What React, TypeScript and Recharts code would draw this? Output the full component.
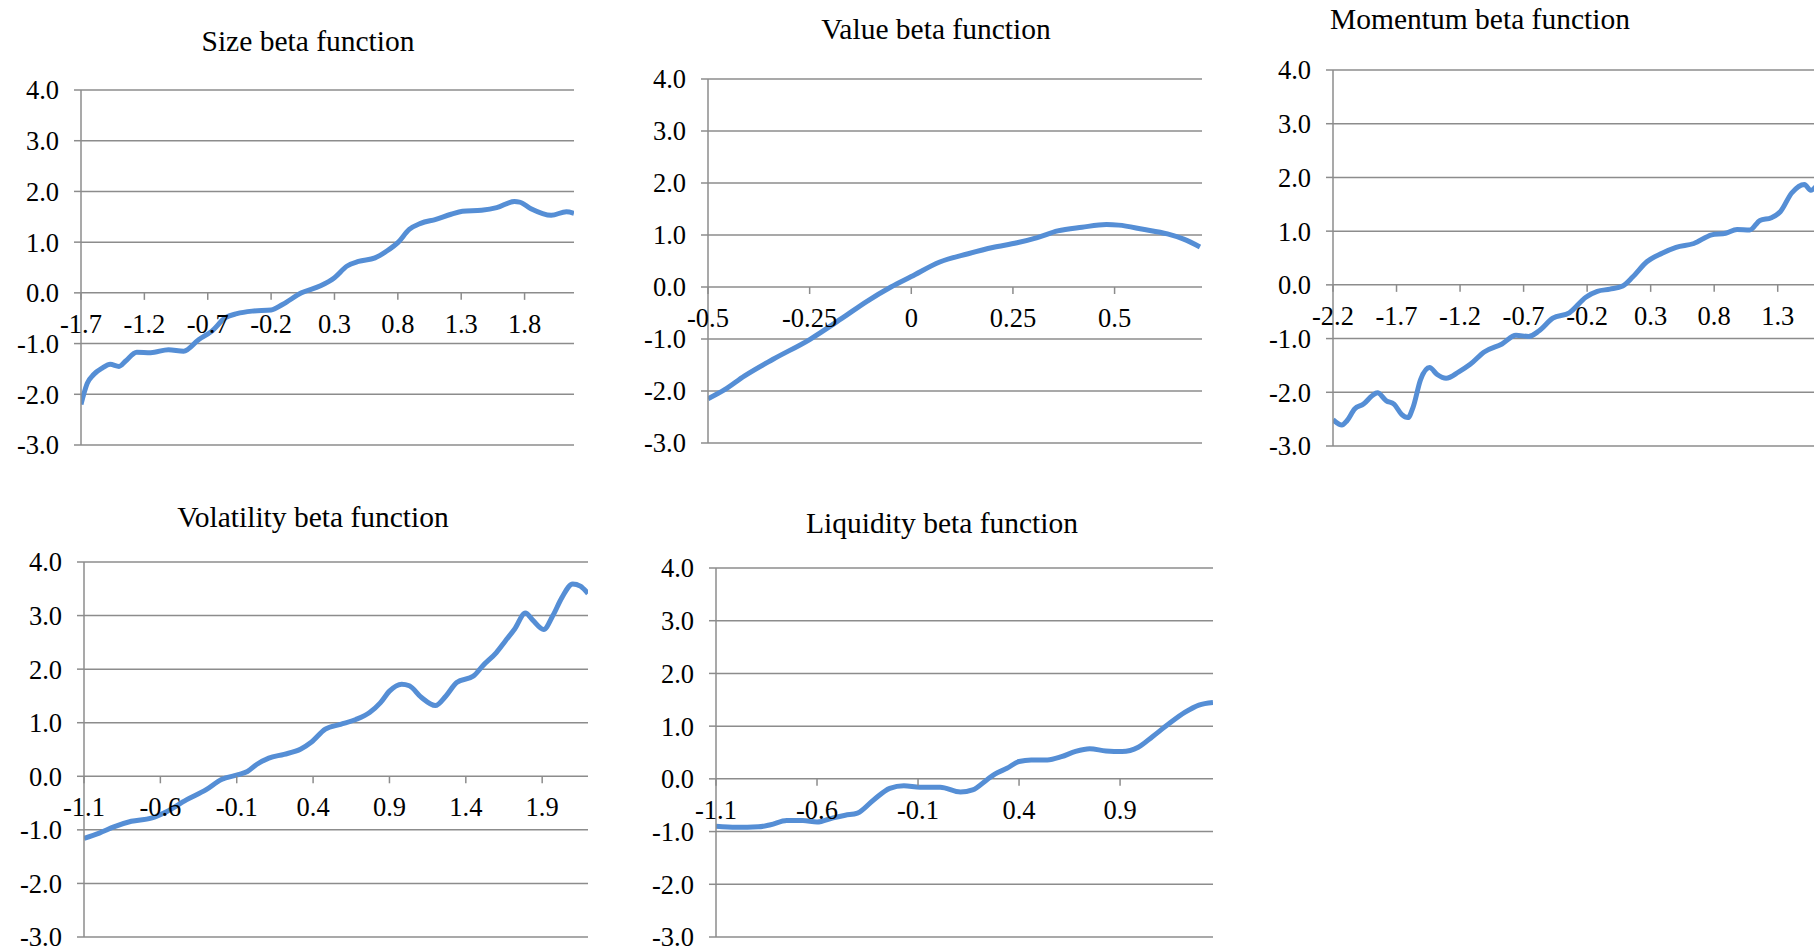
import React from 'react';
import { LineChart, Line, XAxis, YAxis, CartesianGrid, ReferenceDot } from 'recharts';

const FONT = "'Liberation Serif', 'Times New Roman', serif";
const GRID = '#8c8c8c';
const LINE = '#558ed5';
const yTicks = [-3, -2, -1, 0, 1, 2, 3, 4];

// Size beta function
const sizeX = [-1.7, -1.65, -1.6, -1.53, -1.47, -1.4, -1.35, -1.26, -1.15, -1.01, -0.89, -0.77, -0.67, -0.56, -0.47, -0.35, -0.2, -0.11, 0.04, 0.19, 0.3, 0.4, 0.49, 0.62, 0.71, 0.8, 0.89, 0.98, 1.1, 1.22, 1.31, 1.46, 1.58, 1.72, 1.76, 1.85, 2.01, 2.13, 2.19];
const sizeY = [-2.2, -1.78, -1.61, -1.48, -1.41, -1.45, -1.35, -1.17, -1.18, -1.12, -1.15, -0.92, -0.76, -0.49, -0.41, -0.36, -0.34, -0.23, 0.0, 0.14, 0.3, 0.53, 0.62, 0.69, 0.82, 0.99, 1.25, 1.37, 1.45, 1.55, 1.61, 1.63, 1.68, 1.8, 1.79, 1.66, 1.53, 1.6, 1.57];
const sizeTicks = [-1.7, -1.2, -0.7, -0.2, 0.3, 0.8, 1.3, 1.8];
const sizeLabels = ['-1.7', '-1.2', '-0.7', '-0.2', '0.3', '0.8', '1.3', '1.8'];

// Value beta function
const valueX = [-0.5, -0.46, -0.41, -0.34, -0.25, -0.17, -0.11, -0.05, 0.0, 0.07, 0.14, 0.2, 0.26, 0.31, 0.36, 0.42, 0.48, 0.51, 0.57, 0.63, 0.67, 0.71];
const valueY = [-2.15, -1.98, -1.71, -1.39, -1.01, -0.6, -0.28, 0.0, 0.2, 0.48, 0.64, 0.76, 0.85, 0.95, 1.08, 1.15, 1.2, 1.19, 1.11, 1.02, 0.92, 0.77];
const valueTicks = [-0.5, -0.25, 0, 0.25, 0.5];
const valueLabels = ['-0.5', '-0.25', '0', '0.25', '0.5'];

// Momentum beta function
const momX = [-2.2, -2.13, -2.09, -2.03, -1.96, -1.89, -1.85, -1.78, -1.72, -1.66, -1.61, -1.57, -1.51, -1.44, -1.38, -1.31, -1.21, -1.12, -1.01, -0.87, -0.76, -0.66, -0.58, -0.47, -0.34, -0.21, -0.12, -0.02, 0.08, 0.16, 0.27, 0.39, 0.5, 0.64, 0.78, 0.89, 0.98, 1.08, 1.16, 1.25, 1.32, 1.41, 1.51, 1.56, 1.6];
const momY = [-2.51, -2.61, -2.53, -2.31, -2.22, -2.06, -2.01, -2.16, -2.22, -2.41, -2.47, -2.28, -1.76, -1.54, -1.67, -1.74, -1.62, -1.48, -1.25, -1.1, -0.94, -0.96, -0.86, -0.62, -0.52, -0.23, -0.12, -0.08, -0.02, 0.15, 0.43, 0.59, 0.7, 0.77, 0.93, 0.96, 1.03, 1.02, 1.2, 1.25, 1.36, 1.71, 1.87, 1.76, 1.83];
const momTicks = [-2.2, -1.7, -1.2, -0.7, -0.2, 0.3, 0.8, 1.3];
const momLabels = ['-2.2', '-1.7', '-1.2', '-0.7', '-0.2', '0.3', '0.8', '1.3'];

// Volatility beta function
const volX = [-1.1, -1.0, -0.9, -0.79, -0.66, -0.56, -0.43, -0.3, -0.2, -0.09, -0.03, 0.03, 0.11, 0.21, 0.32, 0.39, 0.48, 0.58, 0.68, 0.77, 0.84, 0.9, 0.98, 1.03, 1.11, 1.2, 1.27, 1.34, 1.45, 1.51, 1.6, 1.66, 1.72, 1.79, 1.84, 1.91, 1.97, 2.03, 2.1, 2.15, 2.2];
const volY = [-1.16, -1.06, -0.94, -0.84, -0.78, -0.66, -0.44, -0.25, -0.06, 0.03, 0.09, 0.22, 0.34, 0.41, 0.51, 0.64, 0.88, 0.97, 1.06, 1.19, 1.37, 1.59, 1.72, 1.69, 1.47, 1.32, 1.5, 1.75, 1.87, 2.06, 2.31, 2.53, 2.75, 3.05, 2.91, 2.74, 3.0, 3.34, 3.59, 3.55, 3.41];
const volTicks = [-1.1, -0.6, -0.1, 0.4, 0.9, 1.4, 1.9];
const volLabels = ['-1.1', '-0.6', '-0.1', '0.4', '0.9', '1.4', '1.9'];

// Liquidity beta function
const liqX = [-1.1, -1.0, -0.89, -0.83, -0.75, -0.67, -0.6, -0.52, -0.46, -0.4, -0.32, -0.24, -0.17, -0.09, 0.01, 0.11, 0.17, 0.24, 0.28, 0.34, 0.4, 0.46, 0.54, 0.61, 0.68, 0.75, 0.83, 0.91, 0.99, 1.06, 1.14, 1.22, 1.29, 1.36];
const liqY = [-0.9, -0.92, -0.91, -0.87, -0.79, -0.79, -0.82, -0.74, -0.69, -0.65, -0.4, -0.18, -0.13, -0.16, -0.16, -0.25, -0.21, -0.02, 0.09, 0.2, 0.33, 0.36, 0.36, 0.42, 0.52, 0.57, 0.53, 0.52, 0.6, 0.8, 1.04, 1.26, 1.4, 1.45];
const liqTicks = [-1.1, -0.6, -0.1, 0.4, 0.9];
const liqLabels = ['-1.1', '-0.6', '-0.1', '0.4', '0.9'];

function XTick({ cx, cy, label }: { cx: number; cy: number; label: string }) {
  return (
    <g>
      <line x1={cx} y1={cy} x2={cx} y2={cy + 7} stroke={GRID} strokeWidth={1.5} />
      <text x={cx} y={cy + 40} textAnchor="middle" fontSize={26.5} fontFamily={FONT} fill="#000">
        {label}
      </text>
    </g>
  );
}

type PanelProps = {
  xs: number[];
  ys: number[];
  domain: [number, number];
  xTicks: number[];
  xLabels: string[];
  axisX: number;
  rightX: number;
  topY: number;
  bottomY: number;
};

function Panel({ xs, ys, domain, xTicks, xLabels, axisX, rightX, topY, bottomY }: PanelProps) {
  const data = xs.map((x, i) => ({ x, y: ys[i] }));
  const left = axisX - 80;
  const top = topY - 20;
  const width = rightX - left + 20;
  const height = bottomY - top + 20;
  return (
    <div style={{ position: 'absolute', left, top }}>
      <LineChart width={width} height={height} data={data} margin={{ top: 20, right: 20, bottom: 20, left: 20 }}>
        <CartesianGrid vertical={false} stroke={GRID} strokeWidth={1.5} />
        <XAxis dataKey="x" type="number" domain={domain} allowDataOverflow hide />
        <YAxis
          domain={[-3, 4]}
          ticks={yTicks}
          interval={0}
          allowDataOverflow
          width={60}
          tickFormatter={(v: number) => v.toFixed(1)}
          tick={{ fill: '#000', fontSize: 26.5, fontFamily: FONT }}
          tickSize={7}
          tickMargin={15}
          axisLine={{ stroke: GRID, strokeWidth: 1.5 }}
          tickLine={{ stroke: GRID, strokeWidth: 1.5 }}
        />
        {xTicks.map((v, i) => (
          <ReferenceDot
            key={i}
            x={v}
            y={0}
            r={0}
            ifOverflow="visible"
            shape={(p: any) => <XTick cx={p.cx} cy={p.cy} label={xLabels[i]} />}
          />
        ))}
        <Line type="monotone" dataKey="y" stroke={LINE} strokeWidth={5} dot={false} isAnimationActive={false} />
      </LineChart>
    </div>
  );
}

const titles = [
  { text: 'Size beta function', x: 308, y: 51 },
  { text: 'Value beta function', x: 936, y: 39 },
  { text: 'Momentum beta function', x: 1480, y: 29 },
  { text: 'Volatility beta function', x: 313, y: 527 },
  { text: 'Liquidity beta function', x: 942, y: 533 },
];

export default function App() {
  return (
    <div style={{ position: 'absolute', left: 0, top: 0, width: 1814, height: 951, overflow: 'hidden', background: '#fff' }}>
      <Panel xs={sizeX} ys={sizeY} domain={[-1.7, 2.19]} xTicks={sizeTicks} xLabels={sizeLabels} axisX={81} rightX={574} topY={90} bottomY={445} />
      <Panel xs={valueX} ys={valueY} domain={[-0.5, 0.715]} xTicks={valueTicks} xLabels={valueLabels} axisX={708} rightX={1202} topY={79} bottomY={443} />
      <Panel xs={momX} ys={momY} domain={[-2.2, 1.68]} xTicks={momTicks} xLabels={momLabels} axisX={1333} rightX={1826} topY={70} bottomY={446} />
      <Panel xs={volX} ys={volY} domain={[-1.1, 2.2]} xTicks={volTicks} xLabels={volLabels} axisX={84} rightX={588} topY={562} bottomY={937} />
      <Panel xs={liqX} ys={liqY} domain={[-1.1, 1.36]} xTicks={liqTicks} xLabels={liqLabels} axisX={716} rightX={1213} topY={568} bottomY={937} />
      <svg width={1814} height={951} style={{ position: 'absolute', left: 0, top: 0, pointerEvents: 'none' }}>
        {titles.map((t) => (
          <text key={t.text} x={t.x} y={t.y} textAnchor="middle" fontSize={29.5} fontFamily={FONT} fill="#000">
            {t.text}
          </text>
        ))}
      </svg>
    </div>
  );
}
